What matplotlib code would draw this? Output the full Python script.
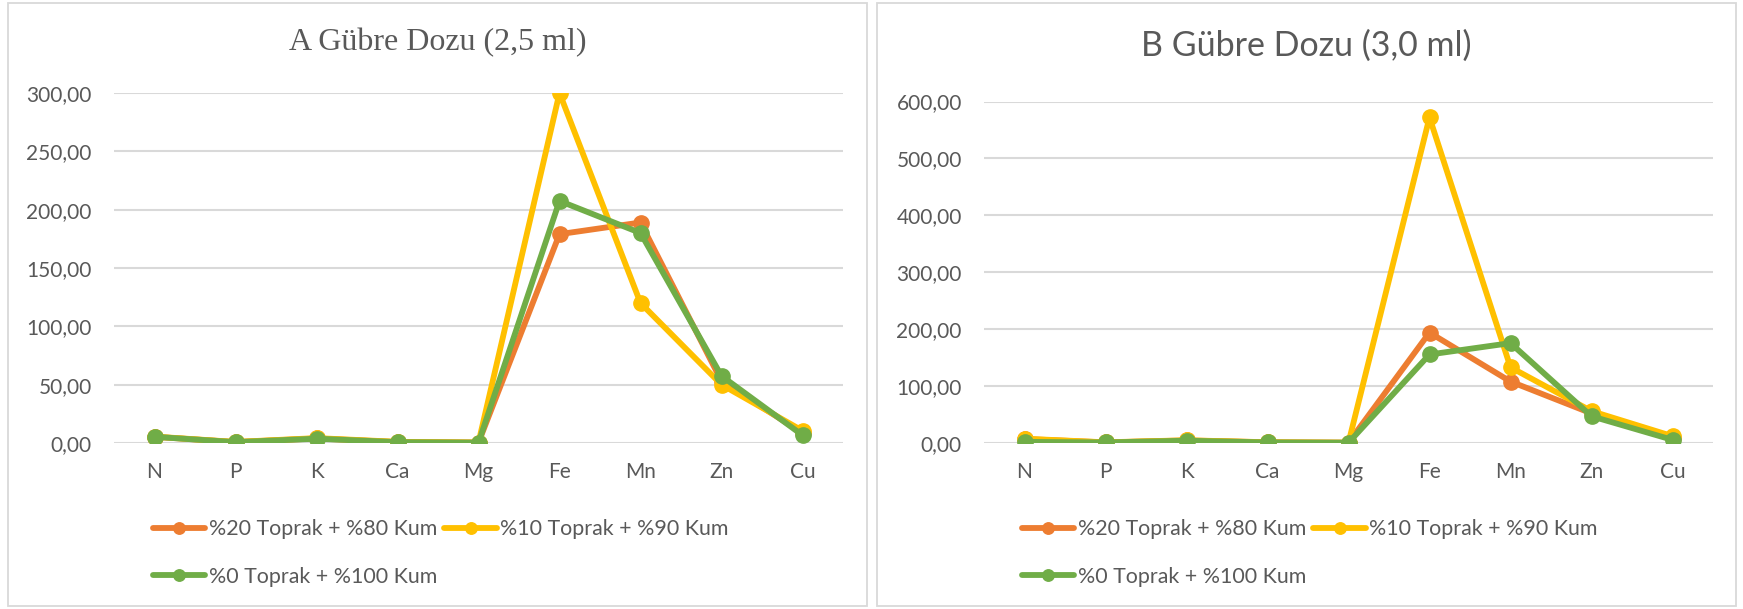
import matplotlib.pyplot as plt
from matplotlib.patches import Rectangle

# nutrient categories on the x axis
elements = ['N', 'P', 'K', 'Ca', 'Mg', 'Fe', 'Mn', 'Zn', 'Cu']
series_names = ['%20 Toprak + %80 Kum', '%10 Toprak + %90 Kum', '%0 Toprak + %100 Kum']

# A dose (2,5 ml)
a_20 = [5.3, 0.8, 3.9, 0.8, 0.4, 179.0, 189.0, 53.0, 8.5]
a_10 = [5.5, 0.9, 4.2, 1.0, 0.4, 300.0, 120.0, 50.0, 10.5]
a_0 = [5.3, 0.7, 3.7, 0.7, 0.3, 207.5, 180.0, 57.5, 6.7]

# B dose (3,0 ml)
b_20 = [7.0, 1.0, 4.5, 1.2, 0.6, 194.0, 108.0, 52.0, 9.0]
b_10 = [7.5, 1.2, 4.8, 1.3, 0.6, 572.0, 133.0, 56.0, 12.0]
b_0 = [2.0, 1.0, 4.0, 1.0, 0.5, 155.5, 175.5, 47.0, 5.5]

colors = ['#ED7D31', '#FFC000', '#70AD47']
tick_color = '#595959'
grid_color = '#D9D9D9'
sans = ['Lato', 'DejaVu Sans']

fig = plt.figure(figsize=(17.43, 6.09), dpi=100)
W, H = 1743, 609


def fx(px):
    return px / W


def fy(py):
    return 1 - py / H


# chart area borders
for x0, x1 in [(8, 867), (877, 1736)]:
    fig.patches.append(Rectangle((fx(x0), fy(606)), fx(x1 - x0), (606 - 3) / H,
                                 transform=fig.transFigure, fill=False,
                                 edgecolor=grid_color, linewidth=1.3))


def draw_panel(rect, data, ymax, ystep, legend_xy):
    ax = fig.add_axes(rect)
    x = range(len(elements))
    handles = []
    for vals, c, name in zip(data, colors, series_names):
        h, = ax.plot(x, vals, color=c, linewidth=4.2, marker='o', markersize=11,
                     solid_capstyle='round', label=name)
        handles.append(h)
    ax.set_xlim(-0.5, len(elements) - 0.5)
    ax.set_ylim(0, ymax)
    ax.set_yticks([i * ystep for i in range(int(ymax / ystep) + 1)])
    ax.set_yticklabels([f'{i * ystep:.2f}'.replace('.', ',') for i in range(int(ymax / ystep) + 1)])
    ax.set_xticks(list(x))
    ax.set_xticklabels(elements)
    for s in ax.spines.values():
        s.set_visible(False)
    ax.grid(axis='y', color=grid_color, linewidth=1.5)
    ax.set_axisbelow(True)
    ax.tick_params(axis='both', length=0, labelcolor=tick_color, labelsize=15)
    ax.tick_params(axis='y', pad=16)
    ax.tick_params(axis='x', pad=14)
    for lab in ax.get_xticklabels() + ax.get_yticklabels():
        lab.set_family(sans)
    # two entries on the first row, the third below
    leg = ax.legend([handles[0], handles[2], handles[1]],
                    [series_names[0], series_names[2], series_names[1]],
                    ncol=2, loc='upper left', bbox_to_anchor=legend_xy,
                    bbox_transform=fig.transFigure, frameon=False,
                    prop={'family': sans, 'size': 15.4}, borderpad=0, borderaxespad=0,
                    handlelength=2.45, handletextpad=0.15, columnspacing=0.35,
                    labelspacing=1.3, markerscale=0.75)
    for t in leg.get_texts():
        t.set_color(tick_color)
    return ax


draw_panel([fx(114), fy(443), fx(843 - 114), (443 - 93) / H],
           [a_20, a_10, a_0], 300, 50, (fx(153), fy(519)))
draw_panel([fx(984), fy(443), fx(1713 - 984), (443 - 101.5) / H],
           [b_20, b_10, b_0], 600, 100, (fx(1022), fy(519)))

fig.text(fx(437.5), fy(43), 'A Gübre Dozu (2,5 ml)', family=['Liberation Serif', 'DejaVu Serif'],
         fontsize=23, color=tick_color, ha='center', va='center')
fig.text(fx(1306), fy(46), 'B Gübre Dozu (3,0 ml)', family=sans,
         fontsize=24.5, color=tick_color, ha='center', va='center')

fig.savefig('out.png', dpi=100)
